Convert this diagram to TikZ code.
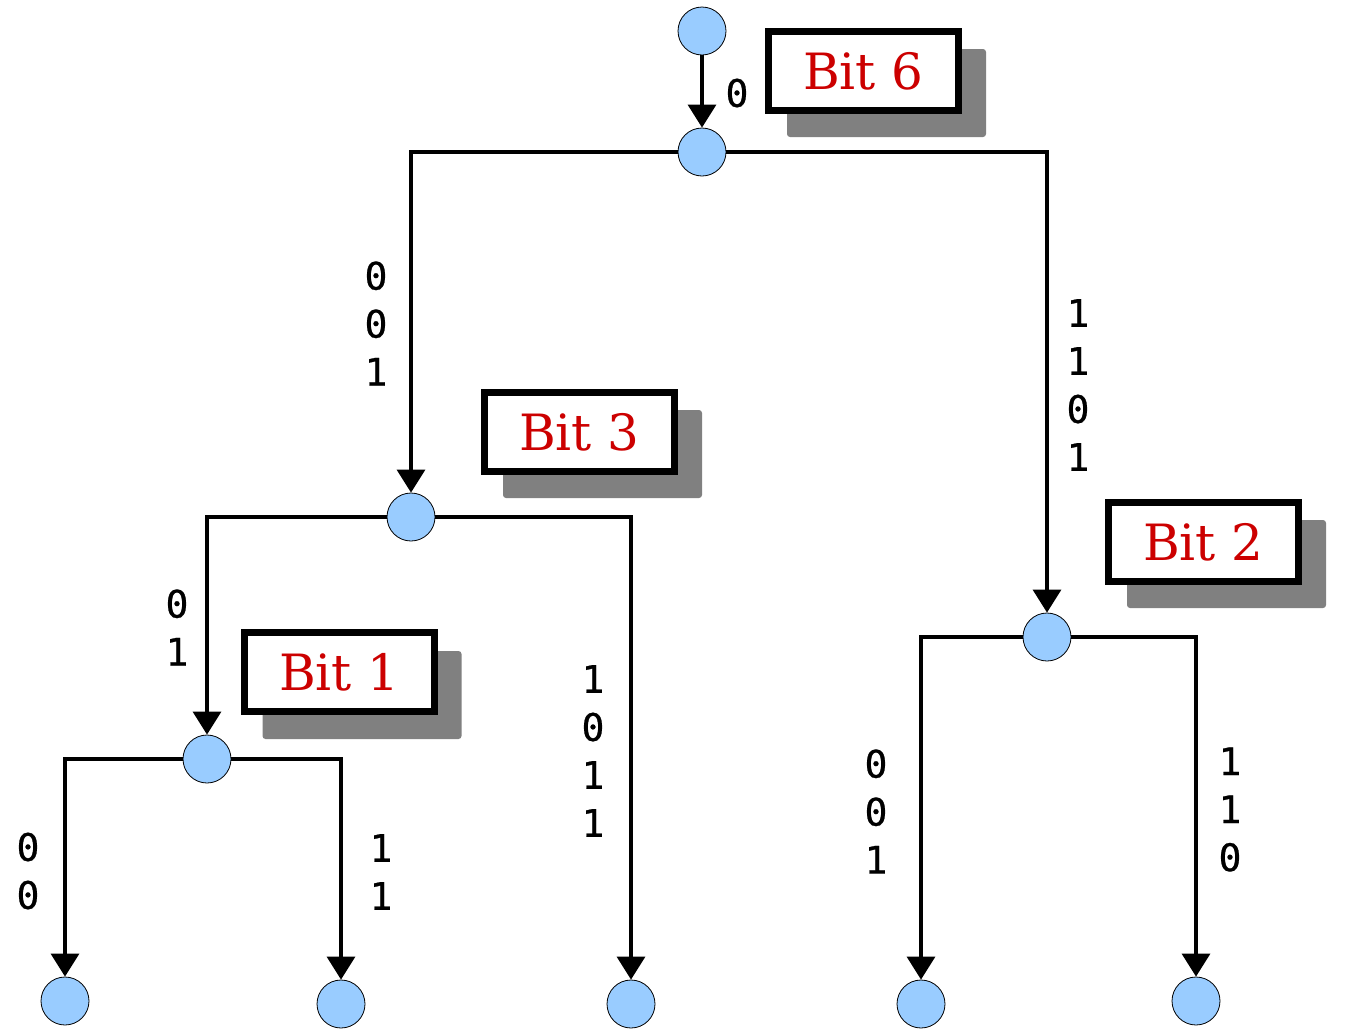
\documentclass[tikz,border=0pt]{standalone}
\usepackage{fontspec}
\newfontfamily\monof[FakeBold=0.6]{DejaVu Sans Mono}
\newfontfamily\seriff{DejaVu Serif}
\usetikzlibrary{arrows.meta}
\definecolor{nodeblue}{HTML}{99CCFF}
\definecolor{bitred}{HTML}{CC0000}
\definecolor{shadowgray}{HTML}{808080}
\tikzset{
  circ/.style={circle,draw=black,line width=0.8pt,fill=nodeblue,minimum size=48pt,inner sep=0pt},
  bitbox/.style={draw=black,line width=7pt,fill=white,minimum width=190pt,minimum height=79pt,inner sep=0pt,
    font=\seriff\fontsize{50}{60}\selectfont,text=bitred},
  shadowbox/.style={fill=shadowgray,rounded corners=3pt,minimum width=199pt,minimum height=88pt,inner sep=0pt},
  lbl/.style={font=\monof\fontsize{38}{48}\selectfont,align=center,inner sep=0pt},
  arr/.style={line width=3.3pt,-{Triangle[length=23pt,width=28pt]}}
}
\begin{document}
\begin{tikzpicture}[x=1pt,y=-1pt]
\useasboundingbox[fill=white] (0,0) rectangle (1354,1031);
% shadows
\node[shadowbox] (s6) at (886.5,93) {};
\node[shadowbox] (s3) at (602.5,454) {};
\node[shadowbox] (s2) at (1226.5,564) {};
\node[shadowbox] (s1) at (362,695) {};
% bit boxes
\node[bitbox] (b6) at (863.5,71) {Bit 6};
\node[bitbox] (b3) at (579.5,432) {Bit 3};
\node[bitbox] (b2) at (1203.5,542) {Bit 2};
\node[bitbox] (b1) at (339.5,672) {Bit 1};
% nodes
\node[circ] (n0) at (702,31) {};
\node[circ] (n1) at (702,152) {};
\node[circ] (n2) at (411,517) {};
\node[circ] (n3) at (1047,637) {};
\node[circ] (n4) at (207,759) {};
\node[circ] (l1) at (65,1001) {};
\node[circ] (l2) at (341,1004) {};
\node[circ] (l3) at (631,1004) {};
\node[circ] (l4) at (921,1004) {};
\node[circ] (l5) at (1196,1001) {};
% connectors
\draw[arr] (n0) -- (n1);
\draw[arr] (n1) -| (n2);
\draw[arr] (n1) -| (n3);
\draw[arr] (n2) -| (n4);
\draw[arr] (n2) -| (l3);
\draw[arr] (n4) -| (l1);
\draw[arr] (n4) -| (l2);
\draw[arr] (n3) -| (l4);
\draw[arr] (n3) -| (l5);
% labels
\node[lbl] (t0) at (737,93) {0};
\node[lbl] (t1) at (376,323.5) {0\\0\\1};
\node[lbl] (t2) at (1078,385) {1\\1\\0\\1};
\node[lbl] (t3) at (177,627.5) {0\\1};
\node[lbl] (t4) at (593,751) {1\\0\\1\\1};
\node[lbl] (t5) at (28,871) {0\\0};
\node[lbl] (t6) at (381,872) {1\\1};
\node[lbl] (t7) at (876,811.5) {0\\0\\1};
\node[lbl] (t8) at (1230,809.5) {1\\1\\0};
\end{tikzpicture}
\end{document}
